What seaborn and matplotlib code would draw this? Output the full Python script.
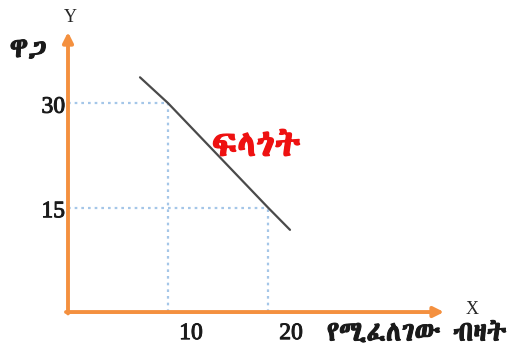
import pandas as pd
import matplotlib
matplotlib.use("Agg")
import matplotlib.pyplot as plt
import matplotlib.patheffects as pe
import seaborn as sns

# demand line and the two marked points
demand_q = [7.2, 10, 20, 22.2]
demand_p = [33.7, 30, 15, 11.8]
mark_q = [10, 20]
mark_p = [30, 15]
x_ticks = ["10", "20"]
y_ticks = ["30", "15"]
curve_label = "ፍላጎት"
y_label = "ዋጋ"
x_label = "የሚፈለገው ብዛት"

sns.set_style("white")

eth = ["Abyssinica SIL", "Noto Serif Ethiopic", "DejaVu Sans"]
serif = ["Liberation Serif", "DejaVu Serif"]

df = pd.DataFrame({"q": demand_q, "p": demand_p})

fig = plt.figure(figsize=(5.29, 3.58), dpi=100)
ax = fig.add_axes([0, 0, 1, 1])
ax.set_xlim(-6.8, 46.1)
ax.set_ylim(-6.6, 44.8)
ax.axis("off")

# dotted guide lines to the axes
grid_c = "#A4C6E8"
for q, p in zip(mark_q, mark_p):
    ax.plot([0, q], [p, p], ls=(0, (1.2, 1.8)), color=grid_c, lw=1.6)
    ax.plot([q, q], [0, p], ls=(0, (1.2, 1.8)), color=grid_c, lw=1.6)

sns.lineplot(data=df, x="q", y="p", ax=ax, color="#4A4A4A", lw=1.6)

orange = "#F4903F"
arrow = dict(arrowstyle="-|>,head_length=0.6,head_width=0.3",
             color=orange, lw=2.8, shrinkA=0, shrinkB=0)
ax.annotate("", xy=(0, 40.2), xytext=(0, -0.2), arrowprops=arrow)
ax.annotate("", xy=(37.6, 0), xytext=(-0.2, 0), arrowprops=arrow)

bold = [pe.withStroke(linewidth=0.7, foreground="#1a1a1a")]
for p, t in zip(mark_p, y_ticks):
    ax.text(-0.3, p - 0.6, t, ha="right", va="center", fontsize=17,
            family=serif, color="#1a1a1a", path_effects=bold)
for q, t in zip(mark_q, x_ticks):
    ax.text(q + 2.3, -3.1, t, ha="center", va="center", fontsize=17,
            family=serif, color="#1a1a1a", path_effects=bold)
ax.text(25.9, -3.1, x_label, ha="left", va="center", fontsize=20,
        family=eth, color="#1a1a1a", path_effects=bold)

ax.text(0.2, 42.3, "Y", ha="center", va="center", fontsize=13, family=serif)
ax.text(40.4, 0.4, "X", ha="center", va="center", fontsize=13, family=serif)
ax.text(-4.0, 37.6, y_label, ha="center", va="center", fontsize=20,
        family=eth, color="#1a1a1a", path_effects=bold)
ax.text(14.4, 23.8, curve_label, ha="left", va="center", fontsize=26,
        family=eth, color="#EE1111",
        path_effects=[pe.withStroke(linewidth=1.0, foreground="#EE1111")])

fig.savefig("out.png", dpi=100)
